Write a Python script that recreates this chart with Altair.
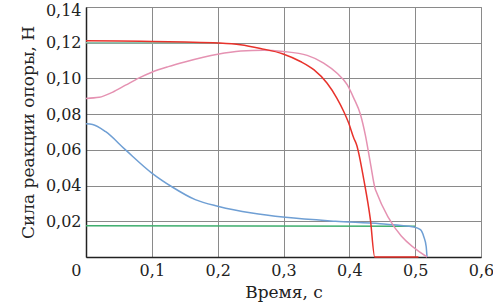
import altair as alt
import pandas as pd

# Data
red_t = [0, 0.05, 0.1, 0.15, 0.2, 0.2345, 0.265, 0.2994, 0.3257, 0.346, 0.366, 0.381, 0.3915, 0.399, 0.4067, 0.411, 0.422, 0.432, 0.4386, 0.44, 0.505]
red_v = [0.1211, 0.1210, 0.1207, 0.1204, 0.1199, 0.1189, 0.1168, 0.1137, 0.1095, 0.1049, 0.0974, 0.0890, 0.0815, 0.0750, 0.0666, 0.0629, 0.0433, 0.0209, 0.0, 0.0, 0.0]

pink_t = [0, 0.02, 0.04, 0.06, 0.08, 0.1, 0.125, 0.15, 0.2, 0.235, 0.27, 0.2994, 0.336, 0.361, 0.381, 0.3967, 0.4067, 0.417, 0.4245, 0.432, 0.4397, 0.518]
pink_v = [0.0888, 0.0894, 0.0922, 0.0962, 0.1002, 0.1035, 0.1066, 0.1092, 0.1135, 0.1153, 0.1158, 0.1151, 0.1129, 0.1086, 0.1030, 0.0965, 0.0890, 0.0797, 0.0680, 0.0526, 0.0377, 0.0]

blue_t = [0, 0.01, 0.0294, 0.0597, 0.1, 0.131, 0.166, 0.2015, 0.252, 0.303, 0.379, 0.447, 0.498, 0.508, 0.513, 0.5167, 0.518]
blue_v = [0.0746, 0.0742, 0.0703, 0.0601, 0.047, 0.0392, 0.0321, 0.0283, 0.0246, 0.0222, 0.0200, 0.0186, 0.0168, 0.0153, 0.0115, 0.006, 0.0]

green_t = [0, 0.5]
green_v = [0.0175, 0.0172]

teal_t = [0, 0.2]
teal_v = [0.12, 0.12]

series = [
    ("teal", teal_t, teal_v),
    ("green", green_t, green_v),
    ("blue", blue_t, blue_v),
    ("pink", pink_t, pink_v),
    ("red", red_t, red_v),
]
colors = {"teal": "#8cc5ae", "green": "#3fae6e", "blue": "#6f9fd4", "pink": "#e592b2", "red": "#e8322b"}

rows = []
for name, ts, vs in series:
    for i, (t, v) in enumerate(zip(ts, vs)):
        rows.append({"s": name, "t": t, "v": v, "o": i})
df = pd.DataFrame(rows)

FONT = "DejaVu Serif"

x_axis = alt.Axis(
    values=[0, 0.1, 0.2, 0.3, 0.4, 0.5, 0.6],
    labelExpr="datum.value == 0 ? '0' : replace(format(datum.value, '.1f'), '.', ',')",
    labelAlign={"condition": {"test": "datum.value == 0", "value": "right"}, "value": "center"},
    labelOffset={"condition": {"test": "datum.value == 0", "value": -5}, "value": 0},
    title="Время, с",
    tickSize=0,
    labelPadding=5,
    titlePadding=6,
    grid=True,
    domainColor="#222222",
    domainWidth=1.5,
)
y_axis = alt.Axis(
    values=[0, 0.02, 0.04, 0.06, 0.08, 0.1, 0.12, 0.14],
    labelExpr="datum.value == 0 ? '' : replace(format(datum.value, '.2f'), '.', ',')",
    labelOffset={"condition": {"test": "datum.value > 0.135", "value": 3}, "value": 0},
    title="Сила реакции опоры, Н",
    tickSize=0,
    labelPadding=5,
    titlePadding=8,
    grid=True,
    domainColor="#222222",
    domainWidth=1.5,
)

chart = alt.Chart(df).mark_line(strokeWidth=1.5, interpolate="monotone").encode(
    x=alt.X("t:Q", scale=alt.Scale(domain=[0, 0.6], nice=False), axis=x_axis),
    y=alt.Y("v:Q", scale=alt.Scale(domain=[0, 0.14], nice=False), axis=y_axis),
    color=alt.Color("s:N", scale=alt.Scale(domain=list(colors.keys()), range=list(colors.values())), legend=None),
    detail="s:N",
    order="o:Q",
).properties(
    width=395,
    height=250,
    autosize=alt.AutoSizeParams(type="none"),
    padding={"left": 86, "top": 7, "right": 12, "bottom": 51},
    background="white",
).configure_view(
    stroke="#8a8a8a", strokeWidth=1
).configure_axis(
    labelFont=FONT, titleFont=FONT, labelFontSize=16, titleFontSize=17,
    labelColor="#222222", titleColor="#222222", titleFontWeight="normal",
    gridColor="#8a8a8a", gridWidth=1, gridOpacity=1,
)

chart.save("out.html", embed_options={"renderer": "svg", "actions": False})
